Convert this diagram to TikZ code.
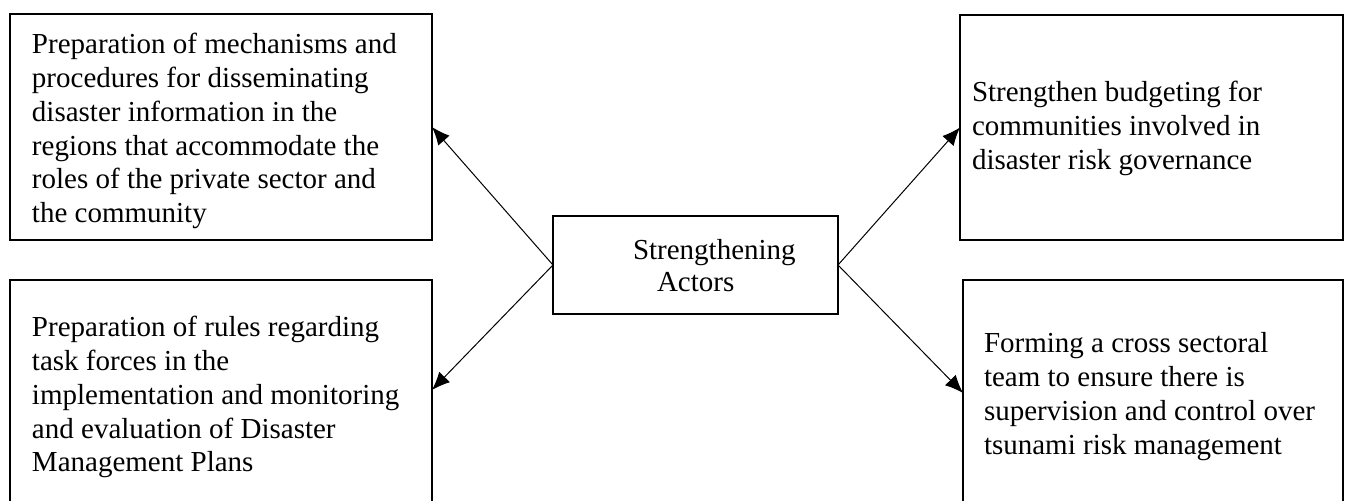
\documentclass[tikz,border=0pt]{standalone}
\usepackage{fontspec}
\setmainfont{Liberation Serif}
\usetikzlibrary{arrows.meta}
\begin{document}
\begin{tikzpicture}[x=0.5pt,y=-0.5pt,
  box/.style={draw, line width=1.1pt, inner sep=0pt, outer sep=0pt, anchor=north west},
  txt/.style={inner sep=0pt, outer sep=0pt, anchor=north west, align=left, font=\fontsize{14.5}{16.85}\selectfont},
  conn/.style={line width=0.5pt, -{Latex[length=9pt,width=7.5pt]}}]
\useasboundingbox (0,0) rectangle (1346,501);
\clip (0,0) rectangle (1346,501);

% boxes
\node[box, minimum width=211pt, minimum height=113pt] (b1) at (10,14) {};
\node[box, minimum width=211pt, minimum height=112pt] (b2) at (10,280) {};
\node[box, minimum width=142.5pt, minimum height=49pt] (b0) at (553,216) {};
\node[box, minimum width=191.5pt, minimum height=112.5pt] (b3) at (960,15) {};
\node[box, minimum width=190pt, minimum height=113pt] (b4) at (963,280) {};

% texts
\node[txt] (t1) at (32,33) {\rule{0pt}{10.5pt}Preparation of mechanisms and\\procedures for disseminating\\disaster information in the\\regions that accommodate the\\roles of the private sector and\\the community};
\node[txt] (t2) at (32,316) {\rule{0pt}{10.5pt}Preparation of rules regarding\\task forces in the\\implementation and monitoring\\and evaluation of Disaster\\Management Plans};
\node[txt] (t3) at (972,81) {\rule{0pt}{10.5pt}Strengthen budgeting for\\communities involved in\\disaster risk governance};
\node[txt] (t4) at (984,332) {\rule{0pt}{10.5pt}Forming a cross sectoral\\team to ensure there is\\supervision and control over\\tsunami risk management};
\node[txt, font=\fontsize{14.5}{16}\selectfont] (t0) at (633,239) {\rule{0pt}{10.5pt}Strengthening\\\hspace*{12pt}Actors};

% connectors
\draw[conn] (b0.west) -- (b1.east);
\draw[conn] (b0.west) -- ([yshift=1pt]b2.east);
\draw[conn] (b0.east) -- (b3.west);
\draw[conn] (b0.east) -- (b4.west);
\end{tikzpicture}
\end{document}
